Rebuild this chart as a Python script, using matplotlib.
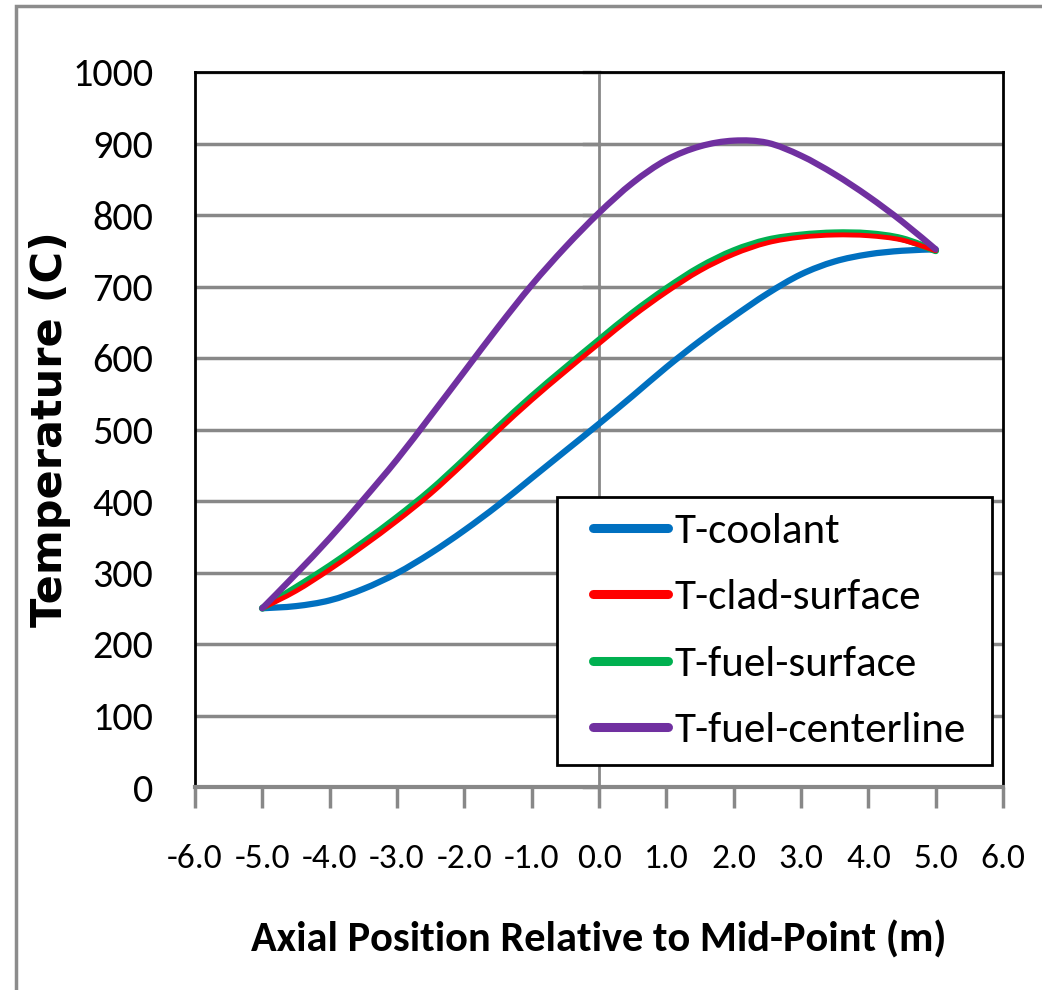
import matplotlib
matplotlib.use('Agg')
from matplotlib import pyplot as plt
from matplotlib.patches import Rectangle, PathPatch
from matplotlib.path import Path
from matplotlib.lines import Line2D
from matplotlib.legend_handler import HandlerLine2D

# axial position (m) and temperatures (C)
z = [-5.0, -4.5, -4.0, -3.5, -3.0, -2.5, -2.0, -1.5, -1.0, -0.5, 0.0,
     0.5, 1.0, 1.5, 2.0, 2.5, 3.0, 3.5, 4.0, 4.5, 5.0]
t_coolant = [250, 253, 261, 277, 299, 327, 359, 394, 432, 470, 508,
             547, 587, 624, 658, 690, 717, 735, 745, 750, 752]
t_clad = [250, 274, 304, 337, 372, 410, 453, 498, 541, 581, 620,
          658, 692, 722, 745, 761, 769, 772, 771, 765, 750]
t_fuel_surf = [250, 279, 309, 342, 377, 415, 458, 503, 546, 586, 625,
               663, 697, 727, 750, 765, 772, 775, 774, 767, 750]
t_fuel_cl = [250, 298, 348, 402, 458, 519, 581, 643, 702, 755, 803,
             845, 877, 896, 904, 901, 883, 857, 826, 791, 752]

names = ['T-coolant', 'T-clad-surface', 'T-fuel-surface', 'T-fuel-centerline']
colors = ['#0070C0', '#FF0000', '#00B050', '#7030A0']
widths = [4.5, 3.5, 5, 4.5]

x_ticks = [-6, -5, -4, -3, -2, -1, 0, 1, 2, 3, 4, 5, 6]
y_ticks = [0, 100, 200, 300, 400, 500, 600, 700, 800, 900, 1000]

cal = ['Carlito', 'Roboto Condensed', 'DejaVu Sans']
grid_c = '#888888'


def smooth_path(xs, ys):
    # Excel-like smoothed line: cubic bezier segments through the points
    verts = [(xs[0], ys[0])]
    codes = [Path.MOVETO]
    n = len(xs)
    for i in range(n - 1):
        x0, y0 = (xs[i - 1], ys[i - 1]) if i > 0 else (xs[i], ys[i])
        x3, y3 = (xs[i + 2], ys[i + 2]) if i + 2 < n else (xs[i + 1], ys[i + 1])
        c1 = (xs[i] + (xs[i + 1] - x0) / 6, ys[i] + (ys[i + 1] - y0) / 6)
        c2 = (xs[i + 1] - (x3 - xs[i]) / 6, ys[i + 1] - (y3 - ys[i]) / 6)
        verts += [c1, c2, (xs[i + 1], ys[i + 1])]
        codes += [Path.CURVE4] * 3
    return Path(verts, codes)


fig = plt.figure(figsize=(10.42, 9.9), dpi=100)
fig.patches.append(Rectangle((16 / 1042, -0.1), 1.2, 0.1 + (990 - 6) / 990,
                             transform=fig.transFigure, fill=False,
                             edgecolor='#8c8c8c', linewidth=2.5))
ax = fig.add_axes([195 / 1042, 1 - 787 / 990, 808 / 1042, 715 / 990])

series = [t_coolant, t_clad, t_fuel_surf, t_fuel_cl]
zorders = [3, 4, 3, 5]
for vals, c, w, zo in zip(series, colors, widths, zorders):
    ax.add_patch(PathPatch(smooth_path(z, vals), fill=False, edgecolor=c,
                           lw=w, capstyle='round', joinstyle='round', zorder=zo))

ax.set_xlim(-6, 6)
ax.set_ylim(0, 1000)

# horizontal gridlines and the vertical axis at x=0
for yv in y_ticks[1:]:
    ax.axhline(yv, color=grid_c, lw=2.5, zorder=1)
ax.axvline(0, color=grid_c, lw=2, zorder=1)
for yv in y_ticks:
    ax.plot([-0.22, 0], [yv, yv], color=grid_c, lw=2.5, zorder=1, clip_on=False)

for s in ['left', 'top', 'right']:
    ax.spines[s].set_color('black')
    ax.spines[s].set_linewidth(2)
ax.spines['bottom'].set_color(grid_c)
ax.spines['bottom'].set_linewidth(3)
ax.spines['bottom'].set_zorder(6)

ax.set_xticks(x_ticks)
ax.set_xticklabels(['%.1f' % v for v in x_ticks])
ax.set_yticks(y_ticks)
ax.tick_params(axis='x', direction='out', length=15, width=2.5, color=grid_c,
               pad=26, labelsize=25.5)
ax.tick_params(axis='y', length=0, pad=30, labelsize=29)
for lab in ax.get_xticklabels() + ax.get_yticklabels():
    lab.set_family(cal)

ax.set_xlabel('Axial Position Relative to Mid-Point (m)', fontsize=30.5,
              fontweight='bold', family=cal)
ax.xaxis.set_label_coords(0.5, -(940 - 787) / 715)
ax.xaxis.label.set_va('center')
ax.set_ylabel('Temperature (C)', fontsize=31, fontweight='bold',
              family=['DejaVu Sans'])
ax.yaxis.set_label_coords(-(195 - 50) / 808, 0.5)
ax.yaxis.label.set_va('center')

handles = [Line2D([], [], color=c, lw=6.5, solid_capstyle='round') for c in colors]
leg = ax.legend(handles, names, loc='lower left', mode='expand',
                bbox_to_anchor=((557 - 195) / 808, 22 / 715, 435 / 808, 270 / 715),
                prop={'family': cal, 'size': 31}, frameon=True, fancybox=False,
                edgecolor='black', framealpha=1, handlelength=2.2,
                handletextpad=0.15, labelspacing=0.68, borderpad=0.37,
                borderaxespad=0,
                handler_map={Line2D: HandlerLine2D(xpad=0.47)})
leg.get_frame().set_linewidth(2)
leg.set_zorder(10)

fig.savefig('out.png', dpi=100)
